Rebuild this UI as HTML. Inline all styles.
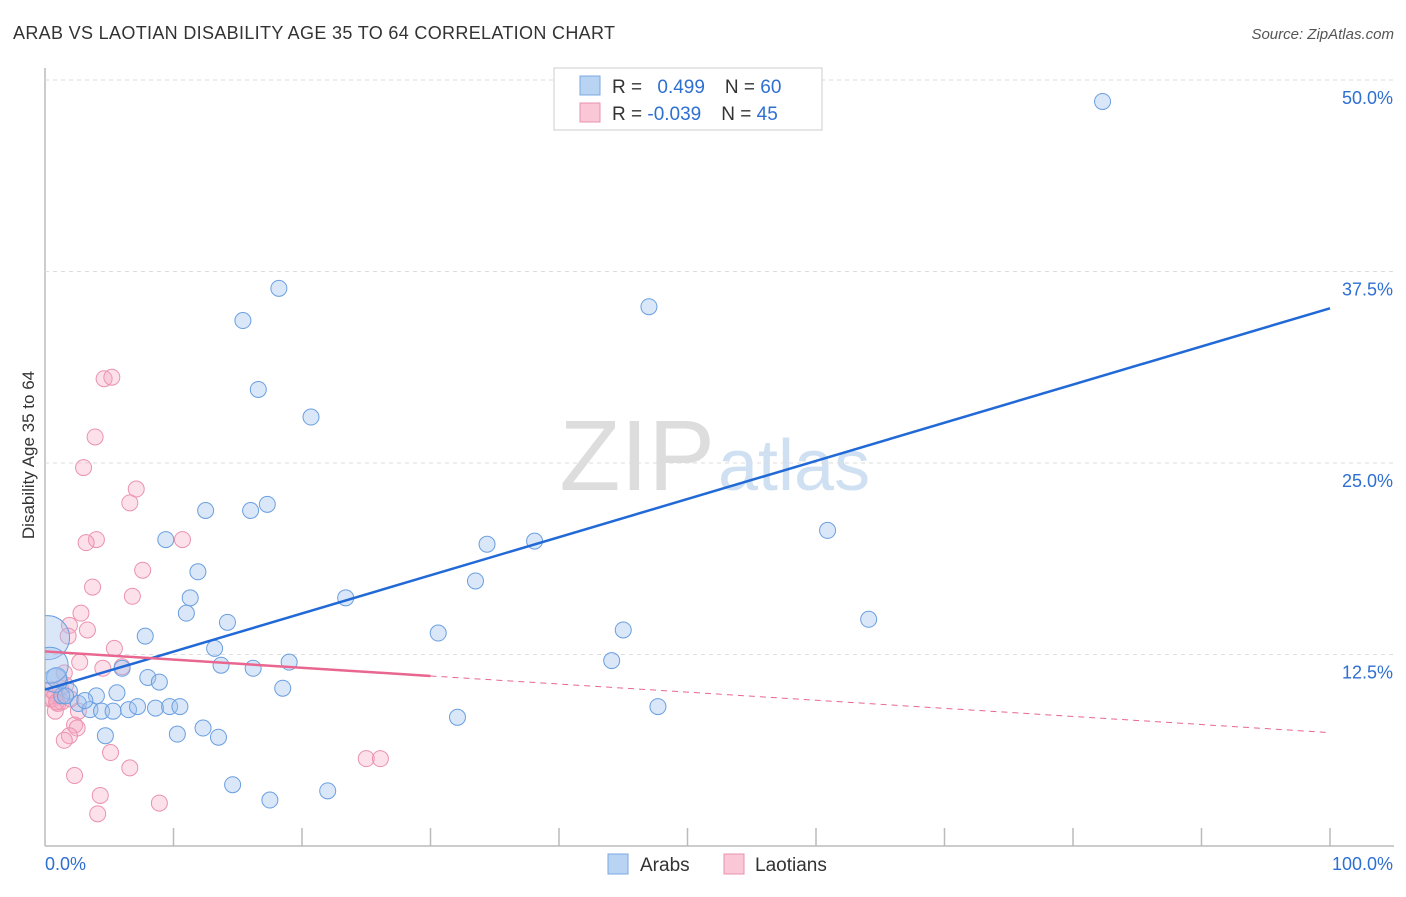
<!DOCTYPE html>
<html><head><meta charset="utf-8"><style>
body{margin:0;background:#fff;font-family:"Liberation Sans",sans-serif}
svg text{font-family:"Liberation Sans",sans-serif}
</style></head><body>
<svg id="c" width="1406" height="892">
<defs><clipPath id="plot"><rect x="45" y="60" width="1360" height="786"/></clipPath></defs>
<text x="13" y="39" font-size="18" fill="#333" textLength="602">ARAB VS LAOTIAN DISABILITY AGE 35 TO 64 CORRELATION CHART</text>
<text x="1394" y="39" font-size="15" fill="#555" font-style="italic" text-anchor="end">Source: ZipAtlas.com</text>
<text x="715" y="490" font-size="100" fill="#ddd" text-anchor="end" font-family="Liberation Serif">ZIP</text>
<text x="718" y="490" font-size="72" fill="#cfe0f2">atlas</text>
<text transform="translate(34,455) rotate(-90)" font-size="17" fill="#333" text-anchor="middle">Disability Age 35 to 64</text>
<g id="grid"></g><g id="pts" clip-path="url(#plot)"></g><g id="lines"></g>
<g>
<rect x="554" y="68" width="268" height="62" fill="#fff" stroke="#ccc"/>
<rect x="580" y="76" width="20" height="19" fill="#b9d3f3" stroke="#7aa8e0"/>
<rect x="580" y="103" width="20" height="19" fill="#f9c7d6" stroke="#eb92ae"/>
<text x="612" y="93" font-size="19" fill="#333">R = <tspan fill="#2e6fd2" dx="10">0.499</tspan><tspan dx="20">N = </tspan><tspan fill="#2e6fd2">60</tspan></text>
<text x="612" y="120" font-size="19" fill="#333">R = <tspan fill="#2e6fd2">-0.039</tspan><tspan dx="20">N = </tspan><tspan fill="#2e6fd2">45</tspan></text>
</g>
<g>
<rect x="608" y="854" width="20" height="20" fill="#b9d3f3" stroke="#7aa8e0"/>
<text x="640" y="871" font-size="19" fill="#333">Arabs</text>
<rect x="724" y="854" width="20" height="20" fill="#f9c7d6" stroke="#eb92ae"/>
<text x="755" y="871" font-size="19" fill="#333">Laotians</text>
</g>
<text x="45" y="870" font-size="18" fill="#2e6fd2">0.0%</text>
<text x="1393" y="870" font-size="18" fill="#2e6fd2" text-anchor="end">100.0%</text>
</svg>
<script>
const yTicks=[12.5,25,37.5,50];
const yTickLabels=["12.5%","25.0%","37.5%","50.0%"];
const arabX=[82.3,18.2,15.4,47,16.6,20.7,17.3,16,12.5,60.9,9.4,38.1,34.4,33.5,11.9,11.3,23.4,11,14.2,64.1,7.8,30.6,45,13.2,44.1,19,13.7,16.2,6,8,8.9,18.5,5.6,4,1.9,1.3,2.6,3.5,4.4,5.3,6.5,7.2,8.6,9.7,10.5,32.1,47.7,12.3,10.3,4.7,13.5,14.6,17.5,22,0.8,0.9,0.2,0.4,1.6,3.1];
const arabY=[48.6,36.4,34.3,35.2,29.8,28,22.3,21.9,21.9,20.6,20,19.9,19.7,17.3,17.9,16.2,16.2,15.2,14.6,14.8,13.7,13.9,14.1,12.9,12.1,12,11.8,11.6,11.6,11,10.7,10.3,10,9.8,10.1,9.8,9.3,8.9,8.8,8.8,8.9,9.1,9,9.1,9.1,8.4,9.1,7.7,7.3,7.2,7.1,4,3,3.6,10.8,11,13.6,11.8,9.8,9.5];
const arabR=[8,8,8,8,8,8,8,8,8,8,8,8,8,8,8,8,8,8,8,8,8,8,8,8,8,8,8,8,8,8,8,8,8,8,8,8,8,8,8,8,8,8,8,8,8,8,8,8,8,8,8,8,8,8,12,10,22,18,8,8];
const laoX=[4.6,5.2,3.9,3,7.1,6.6,4,3.2,10.7,7.6,3.7,6.8,2.8,1.9,3.3,1.8,5.4,2.7,4.5,1.5,6,1.2,0.8,0.4,1,0.6,1.3,0.8,2.6,2.3,2.5,1.9,1.5,5.1,6.6,2.3,25,26.1,4.3,4.1,8.9,1.6,0.5,0.9,2];
const laoY=[30.5,30.6,26.7,24.7,23.3,22.4,20,19.8,20,18,16.9,16.3,15.2,14.4,14.1,13.7,12.9,12,11.6,11.3,11.7,10.3,9.9,9.6,9.3,9.6,9.4,8.8,8.8,7.9,7.7,7.2,6.9,6.1,5.1,4.6,5.7,5.7,3.3,2.1,2.8,10.5,10.2,9.4,9.6];
const X=v=>45+v*12.85, Y=v=>846-v*15.32;
const NS='http://www.w3.org/2000/svg';
function mk(t,a,p){const e=document.createElementNS(NS,t);for(const k in a)e.setAttribute(k,a[k]);p.appendChild(e);return e;}
const g=document.getElementById('grid');
let ax=mk('line',{x1:45,y1:68,x2:45,y2:846,stroke:'#bbb','stroke-width':1.5},g);


let bx=mk('line',{x1:45,y1:846,x2:1394,y2:846,stroke:'#bbb','stroke-width':1.5},g);


for(let i=1;i<=10;i++){let t=mk('line',{x1:45+i*128.5,y1:828,x2:45+i*128.5,y2:846,stroke:'#bbb','stroke-width':1.5},g);

}
yTicks.forEach((v,i)=>{let l=mk('line',{x1:45,y1:Y(v),x2:1394,y2:Y(v),stroke:'#ddd','stroke-dasharray':'4,4'},g);


let t=mk('text',{x:1393,y:Y(v)+24,'font-size':18,fill:'#2e6fd2','text-anchor':'end'},g);t.textContent=yTickLabels[i];

});
const p=document.getElementById('pts');
laoX.forEach((v,i)=>{let c=mk('circle',{cx:X(v),cy:Y(laoY[i]),r:8,fill:'rgba(246,170,195,0.35)',stroke:'#eb92ae','stroke-width':1},p);

});
arabX.forEach((v,i)=>{let c=mk('circle',{cx:X(v),cy:Y(arabY[i]),r:arabR[i],fill:'rgba(160,196,238,0.4)',stroke:'#6a9fe0','stroke-width':1},p);

});
const L=document.getElementById('lines');
let a=mk('line',{x1:X(0),y1:Y(10.2),x2:X(100),y2:Y(35.1),stroke:'#2169d6','stroke-width':2.5},L);


let b=mk('line',{x1:X(0),y1:Y(12.7),x2:X(30),y2:Y(11.1),stroke:'#e8668f','stroke-width':2.5},L);


let d=mk('line',{x1:X(30),y1:Y(11.1),x2:X(100),y2:Y(7.4),stroke:'#e8668f','stroke-width':1,'stroke-dasharray':'6,5'},L);


</script>
</body></html>
